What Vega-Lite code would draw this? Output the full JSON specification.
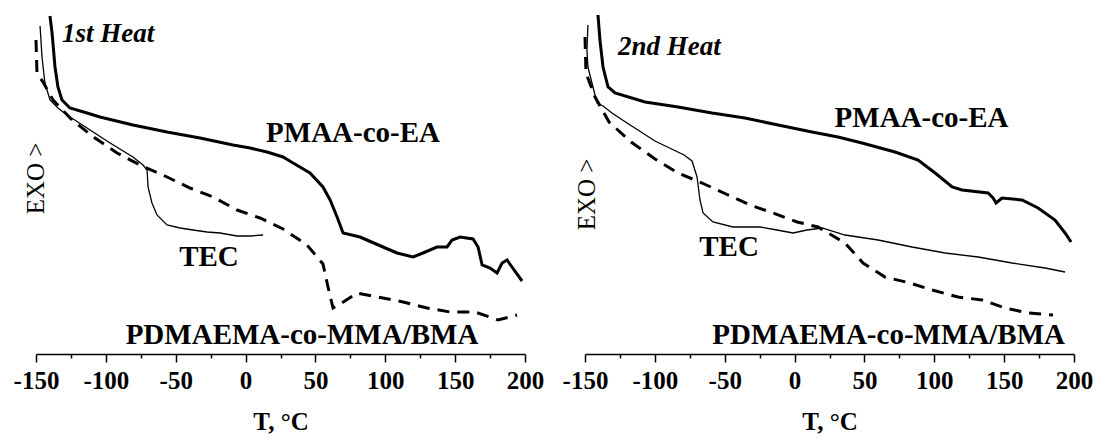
{
  "$schema": "https://vega.github.io/schema/vega-lite/v6.json",
  "padding": {"left": 13, "top": 0, "right": 0, "bottom": 0},
  "background": "white",
  "bounds": "flush",
  "spacing": 60,
  "config": {"view": {"stroke": null}, "font": "Liberation Serif"},
  "datasets": {
    "curves": [
      {"panel":"1st","series":"PMAA","T":-140,"y":338},{"panel":"1st","series":"PMAA","T":-138.5,"y":321},{"panel":"1st","series":"PMAA","T":-136.4,"y":287},{"panel":"1st","series":"PMAA","T":-134.3,"y":267},{"panel":"1st","series":"PMAA","T":-131.4,"y":254},{"panel":"1st","series":"PMAA","T":-125.7,"y":246},{"panel":"1st","series":"PMAA","T":-113.5,"y":241},{"panel":"1st","series":"PMAA","T":-104.2,"y":237},{"panel":"1st","series":"PMAA","T":-80.6,"y":229},{"panel":"1st","series":"PMAA","T":-56.2,"y":222},{"panel":"1st","series":"PMAA","T":-32.6,"y":216},{"panel":"1st","series":"PMAA","T":-9.0,"y":209},{"panel":"1st","series":"PMAA","T":3.2,"y":206},{"panel":"1st","series":"PMAA","T":15.4,"y":202},{"panel":"1st","series":"PMAA","T":26.8,"y":197},{"panel":"1st","series":"PMAA","T":34.0,"y":191},{"panel":"1st","series":"PMAA","T":46.1,"y":181},{"panel":"1st","series":"PMAA","T":55.4,"y":167},{"panel":"1st","series":"PMAA","T":60.5,"y":154},{"panel":"1st","series":"PMAA","T":65.5,"y":137},{"panel":"1st","series":"PMAA","T":69.8,"y":121},{"panel":"1st","series":"PMAA","T":81.9,"y":117},{"panel":"1st","series":"PMAA","T":98.4,"y":107},{"panel":"1st","series":"PMAA","T":108.4,"y":101},{"panel":"1st","series":"PMAA","T":119.9,"y":97},{"panel":"1st","series":"PMAA","T":127.0,"y":101},{"panel":"1st","series":"PMAA","T":137.0,"y":107},{"panel":"1st","series":"PMAA","T":144.2,"y":107},{"panel":"1st","series":"PMAA","T":147.8,"y":114},{"panel":"1st","series":"PMAA","T":153.5,"y":117},{"panel":"1st","series":"PMAA","T":162.8,"y":115},{"panel":"1st","series":"PMAA","T":166.4,"y":107},{"panel":"1st","series":"PMAA","T":169.3,"y":89},{"panel":"1st","series":"PMAA","T":175.0,"y":86},{"panel":"1st","series":"PMAA","T":180.0,"y":81},{"panel":"1st","series":"PMAA","T":183.6,"y":91},{"panel":"1st","series":"PMAA","T":187.2,"y":94},{"panel":"1st","series":"PMAA","T":190.7,"y":87},{"panel":"1st","series":"PMAA","T":197.9,"y":73},
      {"panel":"1st","series":"TEC","T":-147.1,"y":328},{"panel":"1st","series":"TEC","T":-145.7,"y":297},{"panel":"1st","series":"TEC","T":-143.6,"y":271},{"panel":"1st","series":"TEC","T":-140.0,"y":254},{"panel":"1st","series":"TEC","T":-134.3,"y":246},{"panel":"1st","series":"TEC","T":-127.8,"y":239},{"panel":"1st","series":"TEC","T":-111.3,"y":224},{"panel":"1st","series":"TEC","T":-97.0,"y":211},{"panel":"1st","series":"TEC","T":-80.6,"y":197},{"panel":"1st","series":"TEC","T":-73.4,"y":189},{"panel":"1st","series":"TEC","T":-70.5,"y":184},{"panel":"1st","series":"TEC","T":-69.8,"y":167},{"panel":"1st","series":"TEC","T":-67.0,"y":151},{"panel":"1st","series":"TEC","T":-63.4,"y":139},{"panel":"1st","series":"TEC","T":-56.2,"y":129},{"panel":"1st","series":"TEC","T":-46.9,"y":126},{"panel":"1st","series":"TEC","T":-37.6,"y":124},{"panel":"1st","series":"TEC","T":-27.6,"y":122},{"panel":"1st","series":"TEC","T":-18.3,"y":121},{"panel":"1st","series":"TEC","T":-6.1,"y":118},{"panel":"1st","series":"TEC","T":3.2,"y":118},{"panel":"1st","series":"TEC","T":12.5,"y":119},
      {"panel":"1st","series":"PDMAEMA","T":-150.0,"y":314},{"panel":"1st","series":"PDMAEMA","T":-149.3,"y":281},{"panel":"1st","series":"PDMAEMA","T":-145.0,"y":272},{"panel":"1st","series":"PDMAEMA","T":-137.8,"y":254},{"panel":"1st","series":"PDMAEMA","T":-124.2,"y":234},{"panel":"1st","series":"PDMAEMA","T":-107.8,"y":216},{"panel":"1st","series":"PDMAEMA","T":-92.0,"y":201},{"panel":"1st","series":"PDMAEMA","T":-75.6,"y":189},{"panel":"1st","series":"PDMAEMA","T":-56.2,"y":177},{"panel":"1st","series":"PDMAEMA","T":-39.8,"y":166},{"panel":"1st","series":"PDMAEMA","T":-23.3,"y":157},{"panel":"1st","series":"PDMAEMA","T":-6.1,"y":144},{"panel":"1st","series":"PDMAEMA","T":10.3,"y":136},{"panel":"1st","series":"PDMAEMA","T":26.8,"y":125},{"panel":"1st","series":"PDMAEMA","T":44.0,"y":109},{"panel":"1st","series":"PDMAEMA","T":55.4,"y":90},{"panel":"1st","series":"PDMAEMA","T":59.0,"y":67},{"panel":"1st","series":"PDMAEMA","T":62.6,"y":46},{"panel":"1st","series":"PDMAEMA","T":67.6,"y":50},{"panel":"1st","series":"PDMAEMA","T":79.8,"y":61},{"panel":"1st","series":"PDMAEMA","T":98.4,"y":56},{"panel":"1st","series":"PDMAEMA","T":112.7,"y":52},{"panel":"1st","series":"PDMAEMA","T":129.9,"y":46},{"panel":"1st","series":"PDMAEMA","T":146.4,"y":42},{"panel":"1st","series":"PDMAEMA","T":164.2,"y":42},{"panel":"1st","series":"PDMAEMA","T":180.7,"y":34},{"panel":"1st","series":"PDMAEMA","T":194.3,"y":39},
      {"panel":"2nd","series":"PMAA","T":-140.7,"y":339},{"panel":"2nd","series":"PMAA","T":-139.3,"y":314},{"panel":"2nd","series":"PMAA","T":-137.1,"y":287},{"panel":"2nd","series":"PMAA","T":-133.5,"y":267},{"panel":"2nd","series":"PMAA","T":-128.5,"y":261},{"panel":"2nd","series":"PMAA","T":-107.0,"y":252},{"panel":"2nd","series":"PMAA","T":-83.4,"y":247},{"panel":"2nd","series":"PMAA","T":-59.1,"y":241},{"panel":"2nd","series":"PMAA","T":-35.5,"y":236},{"panel":"2nd","series":"PMAA","T":-11.8,"y":229},{"panel":"2nd","series":"PMAA","T":12.5,"y":222},{"panel":"2nd","series":"PMAA","T":31.1,"y":217},{"panel":"2nd","series":"PMAA","T":48.3,"y":211},{"panel":"2nd","series":"PMAA","T":71.9,"y":202},{"panel":"2nd","series":"PMAA","T":88.4,"y":194},{"panel":"2nd","series":"PMAA","T":100.6,"y":181},{"panel":"2nd","series":"PMAA","T":112.8,"y":167},{"panel":"2nd","series":"PMAA","T":119.9,"y":164},{"panel":"2nd","series":"PMAA","T":138.5,"y":161},{"panel":"2nd","series":"PMAA","T":142.1,"y":156},{"panel":"2nd","series":"PMAA","T":144.2,"y":151},{"panel":"2nd","series":"PMAA","T":148.5,"y":156},{"panel":"2nd","series":"PMAA","T":162.8,"y":154},{"panel":"2nd","series":"PMAA","T":174.3,"y":146},{"panel":"2nd","series":"PMAA","T":186.4,"y":134},{"panel":"2nd","series":"PMAA","T":193.6,"y":121},{"panel":"2nd","series":"PMAA","T":197.9,"y":112},
      {"panel":"2nd","series":"TEC","T":-147.9,"y":329},{"panel":"2nd","series":"TEC","T":-148.6,"y":304},{"panel":"2nd","series":"TEC","T":-147.9,"y":287},{"panel":"2nd","series":"TEC","T":-144.3,"y":267},{"panel":"2nd","series":"TEC","T":-141.4,"y":251},{"panel":"2nd","series":"TEC","T":-137.1,"y":248},{"panel":"2nd","series":"TEC","T":-130.7,"y":241},{"panel":"2nd","series":"TEC","T":-119.9,"y":231},{"panel":"2nd","series":"TEC","T":-99.9,"y":213},{"panel":"2nd","series":"TEC","T":-79.1,"y":199},{"panel":"2nd","series":"TEC","T":-73.4,"y":193},{"panel":"2nd","series":"TEC","T":-69.8,"y":177},{"panel":"2nd","series":"TEC","T":-67.7,"y":154},{"panel":"2nd","series":"TEC","T":-65.5,"y":141},{"panel":"2nd","series":"TEC","T":-58.4,"y":132},{"panel":"2nd","series":"TEC","T":-44.1,"y":127},{"panel":"2nd","series":"TEC","T":-24.7,"y":127},{"panel":"2nd","series":"TEC","T":-12.6,"y":124},{"panel":"2nd","series":"TEC","T":-1.1,"y":121},{"panel":"2nd","series":"TEC","T":8.9,"y":124},{"panel":"2nd","series":"TEC","T":19.7,"y":126},{"panel":"2nd","series":"TEC","T":36.1,"y":119},{"panel":"2nd","series":"TEC","T":59.8,"y":114},{"panel":"2nd","series":"TEC","T":84.1,"y":107},{"panel":"2nd","series":"TEC","T":107.7,"y":101},{"panel":"2nd","series":"TEC","T":131.4,"y":97},{"panel":"2nd","series":"TEC","T":155.7,"y":91},{"panel":"2nd","series":"TEC","T":179.3,"y":86},{"panel":"2nd","series":"TEC","T":193.6,"y":82},
      {"panel":"2nd","series":"PDMAEMA","T":-150.0,"y":317},{"panel":"2nd","series":"PDMAEMA","T":-149.3,"y":281},{"panel":"2nd","series":"PDMAEMA","T":-142.8,"y":257},{"panel":"2nd","series":"PDMAEMA","T":-132.8,"y":232},{"panel":"2nd","series":"PDMAEMA","T":-117.0,"y":212},{"panel":"2nd","series":"PDMAEMA","T":-99.9,"y":195},{"panel":"2nd","series":"PDMAEMA","T":-83.4,"y":181},{"panel":"2nd","series":"PDMAEMA","T":-66.2,"y":171},{"panel":"2nd","series":"PDMAEMA","T":-49.1,"y":160},{"panel":"2nd","series":"PDMAEMA","T":-31.9,"y":149},{"panel":"2nd","series":"PDMAEMA","T":-15.4,"y":141},{"panel":"2nd","series":"PDMAEMA","T":1.8,"y":132},{"panel":"2nd","series":"PDMAEMA","T":16.8,"y":127},{"panel":"2nd","series":"PDMAEMA","T":36.1,"y":111},{"panel":"2nd","series":"PDMAEMA","T":49.0,"y":91},{"panel":"2nd","series":"PDMAEMA","T":64.7,"y":77},{"panel":"2nd","series":"PDMAEMA","T":82.6,"y":71},{"panel":"2nd","series":"PDMAEMA","T":98.4,"y":64},{"panel":"2nd","series":"PDMAEMA","T":117.0,"y":57},{"panel":"2nd","series":"PDMAEMA","T":134.2,"y":54},{"panel":"2nd","series":"PDMAEMA","T":150.6,"y":46},{"panel":"2nd","series":"PDMAEMA","T":167.1,"y":41},{"panel":"2nd","series":"PDMAEMA","T":185.0,"y":39}
    ],
    "labels": [
      {"panel":"1st","kind":"heat","text":"1st Heat","T":-131.4,"y":320},
      {"panel":"1st","kind":"series","text":"PMAA-co-EA","T":76.9,"y":221},
      {"panel":"1st","kind":"series","text":"TEC","T":-26.2,"y":97},
      {"panel":"1st","kind":"series","text":"PDMAEMA-co-MMA/BMA","T":40.4,"y":19},
      {"panel":"2nd","kind":"heat","text":"2nd Heat","T":-126.4,"y":307},
      {"panel":"2nd","kind":"series","text":"PMAA-co-EA","T":90.9,"y":236},
      {"panel":"2nd","kind":"series","text":"TEC","T":-46.9,"y":107},
      {"panel":"2nd","kind":"series","text":"PDMAEMA-co-MMA/BMA","T":67.3,"y":19}
    ]
  },
  "hconcat": [
    {
      "width": 489, "height": 354,
      "encoding": {
        "x": {"field": "T", "type": "quantitative",
          "scale": {"domain": [-150, 200], "nice": false, "zero": false},
          "axis": {"values": [-150,-125,-100,-75,-50,-25,0,25,50,75,100,125,150,175,200],
            "labelExpr": "datum.value % 50 === 0 ? '' + datum.value : ''",
            "tickSize": {"condition": {"test": "datum.value % 50 !== 0", "value": 4}, "value": 8},
            "tickColor": "black", "tickWidth": 1.5, "domainColor": "black", "domainWidth": 1.5,
            "labelFont": "Liberation Serif", "labelFontSize": 25, "labelFontWeight": "bold", "labelColor": "black",
            "labelPadding": 6, "labelOverlap": false, "labelFlush": false, "labelBound": false, "grid": false,
            "title": "T, °C", "titleFont": "Liberation Serif", "titleFontSize": 25, "titleFontWeight": "bold", "titleColor": "black", "titlePadding": 16}},
        "y": {"field": "y", "type": "quantitative",
          "scale": {"domain": [0, 354], "nice": false, "zero": false},
          "axis": {"domain": false, "ticks": false, "labels": false, "grid": false,
            "title": "EXO >", "titleFont": "Liberation Serif", "titleFontSize": 25, "titleFontWeight": "normal", "titleColor": "black",
            "titleAngle": 270, "titleBaseline": "middle", "titleAlign": "center", "titleX": -1, "titleY": 178}}
      },
      "layer": [
        {"data": {"name": "curves"}, "transform": [{"filter": "datum.panel == '1st' && datum.series == 'PMAA'"}],
         "mark": {"type": "line", "color": "black", "strokeWidth": 3, "clip": false}, "encoding": {"order": {"value": null}}},
        {"data": {"name": "curves"}, "transform": [{"filter": "datum.panel == '1st' && datum.series == 'TEC'"}],
         "mark": {"type": "line", "color": "black", "strokeWidth": 1.3, "clip": false}, "encoding": {"order": {"value": null}}},
        {"data": {"name": "curves"}, "transform": [{"filter": "datum.panel == '1st' && datum.series == 'PDMAEMA'"}],
         "mark": {"type": "line", "color": "black", "strokeWidth": 3, "strokeDash": [12, 8], "clip": false}, "encoding": {"order": {"value": null}}},
        {"data": {"name": "labels"}, "transform": [{"filter": "datum.panel == '1st' && datum.kind == 'series'"}],
         "mark": {"type": "text", "font": "Liberation Serif", "fontSize": 29, "fontWeight": "bold", "color": "black", "align": "center", "baseline": "middle"},
         "encoding": {"text": {"field": "text"}}},
        {"data": {"name": "labels"}, "transform": [{"filter": "datum.panel == '1st' && datum.kind == 'heat'"}],
         "mark": {"type": "text", "font": "Liberation Serif", "fontSize": 27, "fontWeight": "bold", "fontStyle": "italic", "color": "black", "align": "left", "baseline": "middle"},
         "encoding": {"text": {"field": "text"}}}
      ]
    },
    {
      "width": 489, "height": 354,
      "encoding": {
        "x": {"field": "T", "type": "quantitative",
          "scale": {"domain": [-150, 200], "nice": false, "zero": false},
          "axis": {"values": [-150,-125,-100,-75,-50,-25,0,25,50,75,100,125,150,175,200],
            "labelExpr": "datum.value % 50 === 0 ? '' + datum.value : ''",
            "tickSize": {"condition": {"test": "datum.value % 50 !== 0", "value": 4}, "value": 8},
            "tickColor": "black", "tickWidth": 1.5, "domainColor": "black", "domainWidth": 1.5,
            "labelFont": "Liberation Serif", "labelFontSize": 25, "labelFontWeight": "bold", "labelColor": "black",
            "labelPadding": 6, "labelOverlap": false, "labelFlush": false, "labelBound": false, "grid": false,
            "title": "T, °C", "titleFont": "Liberation Serif", "titleFontSize": 25, "titleFontWeight": "bold", "titleColor": "black", "titlePadding": 16}},
        "y": {"field": "y", "type": "quantitative",
          "scale": {"domain": [0, 354], "nice": false, "zero": false},
          "axis": {"domain": false, "ticks": false, "labels": false, "grid": false,
            "title": "EXO >", "titleFont": "Liberation Serif", "titleFontSize": 25, "titleFontWeight": "normal", "titleColor": "black",
            "titleAngle": 270, "titleBaseline": "middle", "titleAlign": "center", "titleX": 1, "titleY": 194}}
      },
      "layer": [
        {"data": {"name": "curves"}, "transform": [{"filter": "datum.panel == '2nd' && datum.series == 'PMAA'"}],
         "mark": {"type": "line", "color": "black", "strokeWidth": 3, "clip": false}, "encoding": {"order": {"value": null}}},
        {"data": {"name": "curves"}, "transform": [{"filter": "datum.panel == '2nd' && datum.series == 'TEC'"}],
         "mark": {"type": "line", "color": "black", "strokeWidth": 1.3, "clip": false}, "encoding": {"order": {"value": null}}},
        {"data": {"name": "curves"}, "transform": [{"filter": "datum.panel == '2nd' && datum.series == 'PDMAEMA'"}],
         "mark": {"type": "line", "color": "black", "strokeWidth": 3, "strokeDash": [12, 8], "clip": false}, "encoding": {"order": {"value": null}}},
        {"data": {"name": "labels"}, "transform": [{"filter": "datum.panel == '2nd' && datum.kind == 'series'"}],
         "mark": {"type": "text", "font": "Liberation Serif", "fontSize": 29, "fontWeight": "bold", "color": "black", "align": "center", "baseline": "middle"},
         "encoding": {"text": {"field": "text"}}},
        {"data": {"name": "labels"}, "transform": [{"filter": "datum.panel == '2nd' && datum.kind == 'heat'"}],
         "mark": {"type": "text", "font": "Liberation Serif", "fontSize": 27, "fontWeight": "bold", "fontStyle": "italic", "color": "black", "align": "left", "baseline": "middle"},
         "encoding": {"text": {"field": "text"}}}
      ]
    }
  ]
}
